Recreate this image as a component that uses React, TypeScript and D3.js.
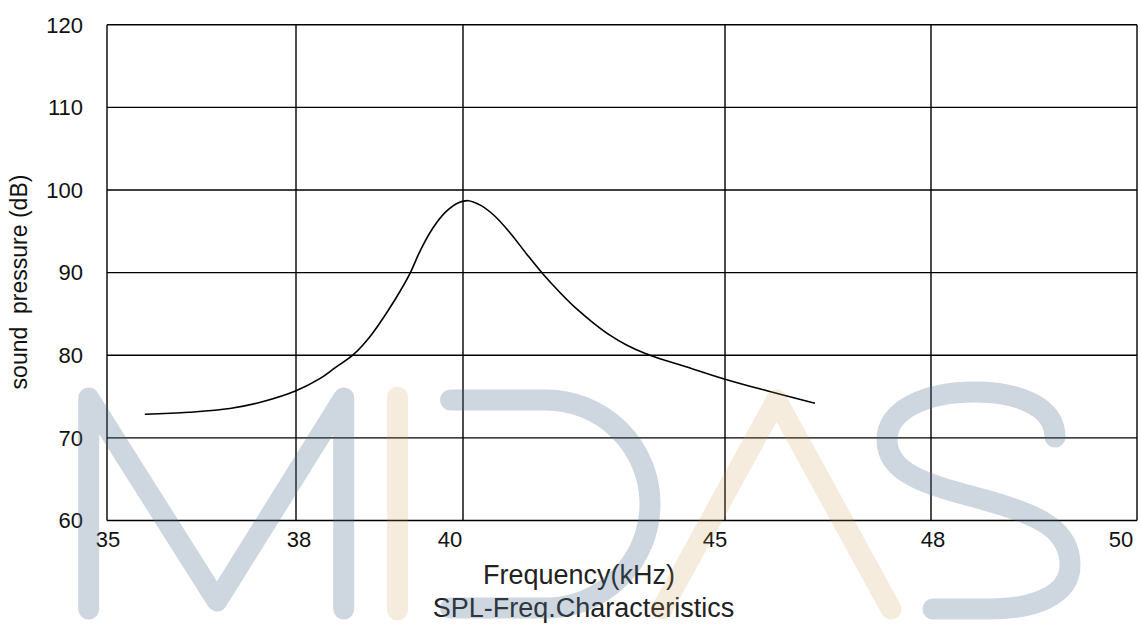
import React from 'react';
import * as d3 from 'd3';

// ---- data ----
const freqTicks = [35, 38, 40, 45, 48, 50];
const freqTickLabels = ['35', '38', '40', '45', '48', '50'];
const splTicks = [60, 70, 80, 90, 100, 110, 120];

const freqKHz = [35.6, 36.3, 36.95, 37.48, 38.0, 38.29, 38.47, 38.69, 38.89, 39.09, 39.25, 39.37, 39.49, 39.64, 39.8, 39.96, 40.1, 40.32, 40.58, 40.9, 41.22, 41.53, 41.85, 42.17, 42.49, 42.81, 43.13, 43.48, 43.85, 44.21, 45.0, 45.61, 46.31];
const splDB = [72.85, 73.1, 73.55, 74.4, 75.7, 77.2, 78.5, 80.1, 82.3, 85.2, 87.8, 90.0, 92.7, 95.4, 97.4, 98.5, 98.7, 98.2, 97.0, 94.8, 92.2, 89.8, 87.6, 85.6, 83.9, 82.4, 81.2, 80.2, 79.4, 78.7, 77.1, 75.7, 74.2];

// ---- layout ----
const W = 1141;
const H = 628;
const plotTop = 24.7;
const plotBottom = 520.5;
// the reference's frequency axis is irregular: pixel position of each tick
const freqTickPx = [107, 296, 463, 725, 931, 1137];
const freqLabelDx = [1, 3, -13, -10, 2, -16];

const FONT = '"Liberation Sans", Arial, Helvetica, sans-serif';

export default function App() {
  const x = d3.scaleLinear().domain(freqTicks).range(freqTickPx);
  const y = d3.scaleLinear().domain([60, 120]).range([plotBottom, plotTop]);

  const pts: [number, number][] = freqKHz.map((f, i) => [x(f), y(splDB[i])]);
  const line = d3.line<[number, number]>().x(d => d[0]).y(d => d[1]).curve(d3.curveCatmullRom.alpha(0.5));

  const left = x(35);
  const right = x(50);
  const gridW = 1.4;

  const blue = 'rgb(80,110,140)';
  const blueOp = 0.28;
  const orange = 'rgb(200,150,70)';
  const orangeOp = 0.18;
  const sw = 21;

  return (
    <svg width={W} height={H} style={{ position: 'absolute', left: 0, top: 0, background: '#fff' }} fontFamily={FONT}>
      <rect x={0} y={0} width={W} height={H} fill="#fff" />
      {/* horizontal grid */}
      {splTicks.map(t => (
        <line key={'h' + t} x1={left} x2={right} y1={y(t)} y2={y(t)} stroke="#000" strokeWidth={gridW} />
      ))}
      {/* vertical grid */}
      {freqTicks.map(t => (
        <line key={'v' + t} x1={x(t)} x2={x(t)} y1={plotTop} y2={plotBottom} stroke="#000" strokeWidth={gridW} />
      ))}
      {/* y tick labels */}
      {splTicks.map(t => (
        <text key={'yl' + t} x={83} y={y(t) + 7.8} textAnchor="end" fontSize={22} fill="#111">{t}</text>
      ))}
      {/* x tick labels */}
      {freqTicks.map((t, i) => (
        <text key={'xl' + t} x={x(t) + freqLabelDx[i]} y={546.5} textAnchor="middle" fontSize={22} fill="#111">{freqTickLabels[i]}</text>
      ))}
      {/* curve */}
      <path d={line(pts) || ''} fill="none" stroke="#000" strokeWidth={1.6} />
      {/* axis titles */}
      <text x={579} y={583.5} textAnchor="middle" fontSize={27} fill="#222">Frequency(kHz)</text>
      <text x={583.5} y={617} textAnchor="middle" fontSize={27} fill="#222">SPL-Freq.Characteristics</text>
      <text transform="translate(27,282) rotate(-90)" textAnchor="middle" fontSize={23} fill="#111" style={{ whiteSpace: 'pre' }}>{'sound  pressure (dB)'}</text>

      {/* watermark */}
      <g fill="none" strokeWidth={sw} strokeLinecap="round" strokeLinejoin="round" pointerEvents="none">
        <path d="M88.7,609 L88.7,398 L217,601 L343.7,398 L343.7,609" stroke={blue} strokeOpacity={blueOp} />
        <path d="M397.5,397 L397.5,610" stroke={orange} strokeOpacity={orangeOp} />
        <path d="M450.5,400 L546,400 A104,104 0 0 1 546,608 L450.5,608" stroke={blue} strokeOpacity={blueOp} />
        <path d="M662,609 L776.5,400 L891,609" stroke={orange} strokeOpacity={orangeOp} />
        <path d="M1055,437 C1055,405 1015,392 975,392 C925,392 887,410 887,440 C887,475 930,485 985,500 C1040,515 1070,530 1070,565 C1070,595 1035,609 990,609 L933,609" stroke={blue} strokeOpacity={blueOp} />
      </g>
    </svg>
  );
}
